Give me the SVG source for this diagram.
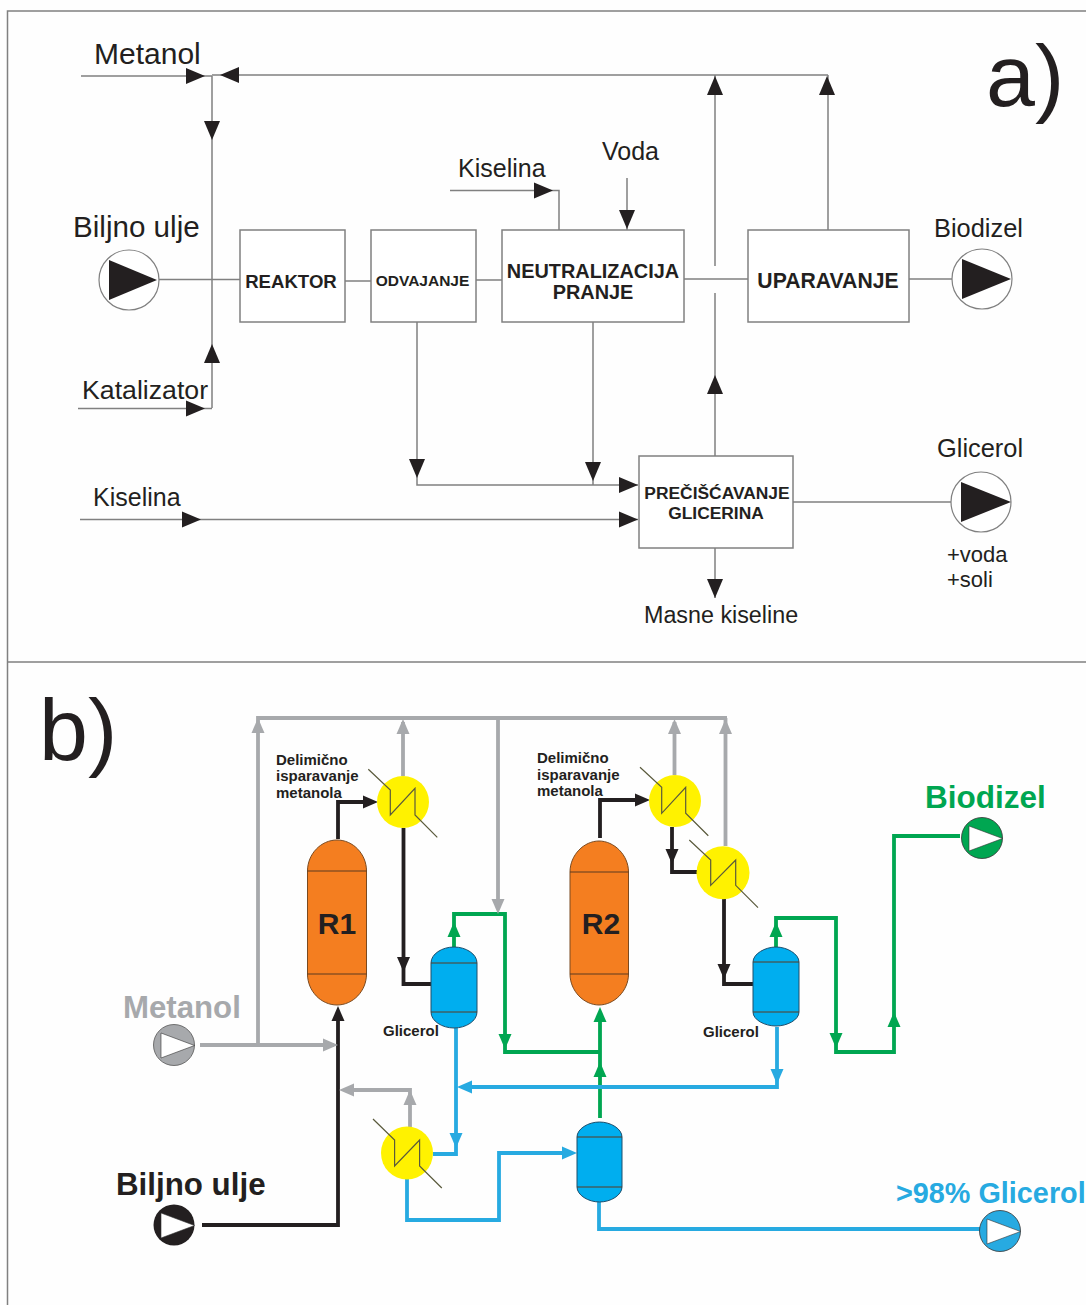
<svg xmlns="http://www.w3.org/2000/svg" xmlns:xlink="http://www.w3.org/1999/xlink" width="1086" height="1305" viewBox="0 0 1086 1305">
<style>
text{font-family:"Liberation Sans",Arial,sans-serif;fill:#231f20}
.b{font-weight:bold}
.m{text-anchor:middle}
.box{fill:#fff;stroke:#808080;stroke-width:1.5}
.l{fill:none;stroke:#808080;stroke-width:1.5}
.pc{fill:#fff;stroke:#808080;stroke-width:1.2}
.k{fill:#231f20}
.w{fill:#fff;stroke:#333;stroke-width:.6}
.t{fill:none;stroke-width:3.800;stroke-linejoin:miter}
.gy{stroke:#a7a9ac}.bk{stroke:#231f20}.gn{stroke:#00a651}.bl{stroke:#27aae1}
.fgy{fill:#a7a9ac}.fbk{fill:#231f20}.fgn{fill:#00a651}.fbl{fill:#27aae1}
.hx{fill:#fff200}
.z{fill:none;stroke:#5a5a3c;stroke-width:1.2}
.r{fill:#f47e20;stroke:#7a4a20;stroke-width:1}
.v{fill:#00aeef;stroke:#1f4e6b;stroke-width:1}
.d{fill:none;stroke:#5a3a20;stroke-width:1}
</style>
<defs>
<path id="a" d="M0 0L-19 -8L-19 8Z"/>
<path id="s" d="M0 0L-15 -6.500L-15 6.500Z"/>
</defs>
<rect width="1086" height="1305" fill="#fefefe"/>
<path id="frame" class="l" d="M1086 11H7.500V1305M7.500 662H1086"/>

<g id="connectors-a">
<path class="l" d="M81 76H212M212 76V408M78 408.500H212M212 75H828M157 279.500H240M345 281H371M476 280H502M450 190.500H559V230M627 178V230M684 279H748M909 279H953M417 322V485H638M593 322V485M80 519.500H638M715 456V293M715 266V75M828 230V75M793 502H953M715 548V598"/>
<g class="k">
<use xlink:href="#a" href="#a" transform="translate(205,76)"/>
<use xlink:href="#a" href="#a" transform="translate(220,75) rotate(180)"/>
<use xlink:href="#a" href="#a" transform="translate(212,140) rotate(90)"/>
<use xlink:href="#a" href="#a" transform="translate(212,344) rotate(-90)"/>
<use xlink:href="#a" href="#a" transform="translate(205,408.500)"/>
<use xlink:href="#a" href="#a" transform="translate(553,190.500)"/>
<use xlink:href="#a" href="#a" transform="translate(627,229) rotate(90)"/>
<use xlink:href="#a" href="#a" transform="translate(417,478) rotate(90)"/>
<use xlink:href="#a" href="#a" transform="translate(593,481) rotate(90)"/>
<use xlink:href="#a" href="#a" transform="translate(638,485)"/>
<use xlink:href="#a" href="#a" transform="translate(638,519.500)"/>
<use xlink:href="#a" href="#a" transform="translate(201,519.500)"/>
<use xlink:href="#a" href="#a" transform="translate(715,375) rotate(-90)"/>
<use xlink:href="#a" href="#a" transform="translate(715,76) rotate(-90)"/>
<use xlink:href="#a" href="#a" transform="translate(827,76) rotate(-90)"/>
<use xlink:href="#a" href="#a" transform="translate(715,598) rotate(90)"/>
</g>
</g>

<text x="986" y="106" font-size="88">a)</text>
<text x="94" y="64" font-size="30">Metanol</text>
<text x="82" y="399" font-size="26.700">Katalizator</text>
<text x="458" y="177" font-size="25">Kiselina</text>
<text x="602" y="160" font-size="25">Voda</text>
<text x="93" y="506" font-size="25">Kiselina</text>
<text x="644" y="623" font-size="23.300">Masne kiseline</text>

<g id="pump-biljno-ulje-a">
<text x="73" y="237" font-size="29.600">Biljno ulje</text>
<circle class="pc" cx="129" cy="280" r="30"/><path class="k" d="M109 260L157 280L109 300Z"/>
</g>
<g id="reaktor"><rect class="box" x="240" y="230" width="105" height="92"/><text class="b m" x="291" y="288" font-size="18.600">REAKTOR</text></g>
<g id="odvajanje"><rect class="box" x="371" y="230" width="105" height="92"/><text class="b m" x="422.500" y="286" font-size="15.500">ODVAJANJE</text></g>
<g id="neutralizacija"><rect class="box" x="502" y="230" width="182" height="92"/><text class="b m" x="593" y="278" font-size="19.900">NEUTRALIZACIJA</text><text class="b m" x="593" y="299" font-size="19.900">PRANJE</text></g>
<g id="uparavanje"><rect class="box" x="748" y="230" width="161" height="92"/><text class="b m" x="828" y="288" font-size="21.200">UPARAVANJE</text></g>
<g id="preciscavanje"><rect class="box" x="639" y="456" width="154" height="92"/><text class="b m" x="717" y="499" font-size="17.400">PREČIŠĆAVANJE</text><text class="b m" x="716" y="519" font-size="17.400">GLICERINA</text></g>
<g id="pump-biodizel-a">
<text x="934" y="237" font-size="25.400">Biodizel</text>
<circle class="pc" cx="982" cy="279" r="30"/><path class="k" d="M962 259L1011 279L962 299Z"/>
</g>
<g id="pump-glicerol-a">
<text x="937" y="457" font-size="25.400">Glicerol</text>
<circle class="pc" cx="981" cy="502" r="30"/><path class="k" d="M961 482L1011 502L961 522Z"/>
<text x="947" y="562" font-size="22">+voda</text>
<text x="947" y="587" font-size="22">+soli</text>
</g>

<text x="39" y="760" font-size="88">b)</text>

<g id="connectors-b">
<path class="t gy" d="M200 1045H334M258 1045V718H727M403 776V722M498 718V905M674.500 775V722M725.500 846V718M410 1127V1090H345"/>
<path class="t bk" d="M202 1225H338V1012M338 839V802H366M403.500 828V984H431M600 838V800H640M672 827V872H697M724 899V984H753"/>
<path class="t gn" d="M454 947V914H505V1052H600M600 1118V1012M776 947V918H836V1052H894V836H960"/>
<path class="t bl" d="M456 1028V1154H433M777 1027V1087H466M407 1178V1220H499V1153H568M599 1202V1229H982"/>
<g class="fgy">
<use xlink:href="#s" href="#s" transform="translate(258,718) rotate(-90)"/>
<use xlink:href="#s" href="#s" transform="translate(403,719) rotate(-90)"/>
<use xlink:href="#s" href="#s" transform="translate(674.500,719) rotate(-90)"/>
<use xlink:href="#s" href="#s" transform="translate(725.500,719) rotate(-90)"/>
<use xlink:href="#s" href="#s" transform="translate(498,914) rotate(90)"/>
<use xlink:href="#s" href="#s" transform="translate(338,1045)"/>
<use xlink:href="#s" href="#s" transform="translate(410,1090) rotate(-90)"/>
<use xlink:href="#s" href="#s" transform="translate(339,1090) rotate(180)"/>
</g>
<g class="fbk">
<use xlink:href="#s" href="#s" transform="translate(338,1006) rotate(-90)"/>
<use xlink:href="#s" href="#s" transform="translate(378,802)"/>
<use xlink:href="#s" href="#s" transform="translate(403.500,972) rotate(90)"/>
<use xlink:href="#s" href="#s" transform="translate(650,800)"/>
<use xlink:href="#s" href="#s" transform="translate(672,864) rotate(90)"/>
<use xlink:href="#s" href="#s" transform="translate(724,979) rotate(90)"/>
</g>
<g class="fgn">
<use xlink:href="#s" href="#s" transform="translate(454,922) rotate(-90)"/>
<use xlink:href="#s" href="#s" transform="translate(505,1049) rotate(90)"/>
<use xlink:href="#s" href="#s" transform="translate(600,1007) rotate(-90)"/>
<use xlink:href="#s" href="#s" transform="translate(600,1062) rotate(-90)"/>
<use xlink:href="#s" href="#s" transform="translate(776,922) rotate(-90)"/>
<use xlink:href="#s" href="#s" transform="translate(836,1048) rotate(90)"/>
<use xlink:href="#s" href="#s" transform="translate(894,1012) rotate(-90)"/>
</g>
<g class="fbl">
<use xlink:href="#s" href="#s" transform="translate(456,1148) rotate(90)"/>
<use xlink:href="#s" href="#s" transform="translate(777,1084) rotate(90)"/>
<use xlink:href="#s" href="#s" transform="translate(457,1087) rotate(180)"/>
<use xlink:href="#s" href="#s" transform="translate(577,1153)"/>
</g>
</g>

<g id="r1"><path class="r" d="M307.500 871C307.500 854 321 840 337 840C353 840 366.500 854 366.500 871V974C366.500 991 353 1005 337 1005C321 1005 307.500 991 307.500 974Z"/><path class="d" d="M307.500 871H366.500M307.500 974H366.500"/><text class="b m" x="337" y="934" font-size="30">R1</text></g>
<g id="r2"><path class="r" d="M570 872C570 855 584 841 599 841C614 841 628.500 855 628.500 872V974C628.500 991 614 1005 599 1005C584 1005 570 991 570 974Z"/><path class="d" d="M570 872H628.500M570 974H628.500"/><text class="b m" x="601" y="934" font-size="30">R2</text></g>

<g id="hx1"><circle class="hx" cx="403" cy="802" r="26"/><path class="z" d="M368.300 769.300L390.300 790V815L415 788.300V815L437.300 837.300"/></g>
<g id="hx2"><circle class="hx" cx="675" cy="801" r="26"/><path class="z" d="M640 767.300L661.700 787.300V813.300L685.700 787.300V813.300L708.300 835.700"/></g>
<g id="hx3"><circle class="hx" cx="723" cy="872.700" r="26.500"/><path class="z" d="M689.300 840L710.700 860V885.300L735.700 860V885.300L758 907.700"/></g>
<g id="hx4"><ellipse class="hx" cx="407" cy="1153" rx="26" ry="26.500"/><path class="z" d="M373 1119L394.600 1140V1166L419.600 1140V1166L441.800 1188"/></g>

<g id="sep1"><path class="v" d="M431 963C431 954 442 947 454 947C466 947 477 954 477 963V1012C477 1021 466 1028 454 1028C442 1028 431 1021 431 1012Z"/><path class="d" d="M431 963H477M431 1012H477"/><text class="b" x="383" y="1036" font-size="15">Glicerol</text></g>
<g id="sep2"><path class="v" d="M753 962C753 954 765 947 776 947C787 947 799 954 799 962V1012C799 1020 787 1026 776 1026C765 1026 753 1020 753 1012Z"/><path class="d" d="M753 962H799M753 1012H799"/><text class="b" x="703" y="1037" font-size="15">Glicerol</text></g>
<g id="sep3"><path class="v" d="M577 1137C577 1129 588 1122 599.500 1122C611 1122 622 1129 622 1137V1187C622 1195 611 1202 599.500 1202C588 1202 577 1195 577 1187Z"/><path class="d" d="M577 1137H622M577 1187H622"/></g>

<g id="note1" font-size="15"><text class="b" x="276" y="765">Delimično</text><text class="b" x="276" y="781">isparavanje</text><text class="b" x="276" y="798">metanola</text></g>
<g id="note2" font-size="15"><text class="b" x="537" y="763">Delimično</text><text class="b" x="537" y="780">isparavanje</text><text class="b" x="537" y="796">metanola</text></g>

<g id="pump-metanol"><text class="b" x="123" y="1018" font-size="31.200" style="fill:#a7a9ac">Metanol</text><circle cx="174" cy="1045" r="20.500" fill="#a7a9ac" stroke="#555" stroke-width=".8"/><path class="w" d="M161 1033L194.500 1045.500L161 1058Z"/></g>
<g id="pump-biljno-ulje-b"><text class="b" x="116" y="1195" font-size="31.300">Biljno ulje</text><circle cx="174" cy="1225" r="20.500" fill="#231f20"/><path class="w" d="M161 1213L194.500 1225.500L161 1238Z"/></g>
<g id="pump-biodizel-b"><text class="b" x="925" y="808" font-size="31.500" style="fill:#00a651">Biodizel</text><circle cx="982" cy="838" r="20.500" fill="#00a651" stroke="#333" stroke-width=".8"/><path class="w" d="M969 826L1002.500 838.500L969 851Z"/></g>
<g id="pump-glicerol-b"><text class="b" x="896" y="1203" font-size="28.800" style="fill:#27aae1">&gt;98% Glicerol</text><circle cx="1000" cy="1231" r="20.500" fill="#27aae1" stroke="#333" stroke-width=".8"/><path class="w" d="M987 1219L1020.500 1231.500L987 1244Z"/></g>
</svg>
